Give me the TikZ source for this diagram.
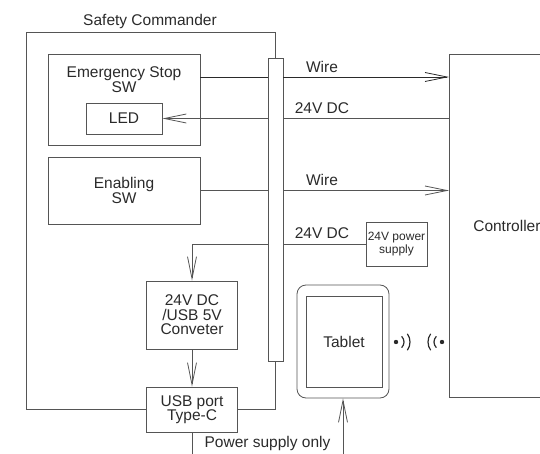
\documentclass[tikz,border=0pt]{standalone}
\usepackage{fontspec}
\setmainfont{Liberation Sans}
\usetikzlibrary{arrows.meta}
\definecolor{linec}{HTML}{555555}
\definecolor{wirec}{HTML}{2A2A2A}
\definecolor{txt}{HTML}{2A2A2A}
\begin{document}
\begin{tikzpicture}[x=1pt,y=-1pt,
  box/.style={draw=linec, line width=0.8pt, rectangle, inner sep=0pt, align=center,
    font=\fontsize{15.5}{14.5}\selectfont, text=txt},
  lbl/.style={inner sep=0pt, font=\fontsize{15.5}{14}\selectfont, text=txt, align=center},
  ln/.style={draw=linec, line width=0.8pt},
  wr/.style={draw=wirec, line width=0.8pt},
  arr/.style={-{Straight Barb[length=22pt,width=9pt,line width=0.8pt]}},
  wave/.style={draw=txt, line width=1.2pt},
]
\useasboundingbox (0,0) rectangle (540,454);
\clip (0,0) rectangle (540,454);

% boxes
\node[box, minimum width=152, minimum height=91] (es) at (124,99.5) {};
\node[lbl] (estxt) at (124,80) {Emergency Stop\\SW};
\node[box, minimum width=76, minimum height=31] (led) at (124,118.5) {LED};
\node[box, minimum width=152, minimum height=67] (en) at (124,190.5) {Enabling\\SW};
\node[box, minimum width=91, minimum height=68] (conv) at (192,315) {24V DC\\/USB 5V\\Conveter};
\node[box, minimum width=91, minimum height=45] (usb) at (192,409.5) {USB port\\Type-C};
\node[box, minimum width=15, minimum height=303] (bar) at (275.5,209.5) {};
\node[box, minimum width=61, minimum height=44, font=\fontsize{12}{12.5}\selectfont] (psu) at (396.5,244) {24V power\\supply};
\node[draw=linec, line width=0.8pt, rounded corners=9, minimum width=92, minimum height=113, inner sep=0pt] (tabo) at (343,341.5) {};
\node[box, minimum width=76, minimum height=91] (tab) at (344,341.5) {Tablet};
\node[box, minimum width=115, minimum height=343, anchor=west] (ctrl) at (449,225.5) {Controller};

% outer Safety Commander frame
\node[lbl] (sc) at (150,21) {Safety Commander};
\draw[ln] (usb.west) -| (26,32) -| (bar.north);
\draw[ln] (usb.east) -| (bar.south);

% connectors
\coordinate (w1) at (0,77);
\draw[wr] (es.east |- w1) -- (bar.west |- w1);
\draw[wr, arr] (bar.east |- w1) -- (ctrl.west |- w1);
\node[lbl] (lw1) at (322,67) {Wire};

\draw[ln] (ctrl.west |- led) -- (bar.east |- led);
\draw[ln, arr] (bar.west |- led) -- (led.east);
\node[lbl] (ld1) at (322,108) {24V DC};

\draw[ln] (en.east) -- (bar.west |- en.east);
\draw[ln, arr] (bar.east |- en.east) -- (ctrl.west |- en.east);
\node[lbl] (lw2) at (322,180) {Wire};

\draw[ln] (psu.west) -- (bar.east |- psu.west);
\draw[ln, arr] (bar.west |- psu.west) -| (conv.north);
\node[lbl] (ld2) at (322,233) {24V DC};

\draw[ln, arr] (conv.south) -- (usb.north);

\coordinate (bl) at (192,456);
\draw[ln] (usb.south) -- (bl);
\node[lbl] (lps) at (267.5,443) {Power supply only};

\coordinate (br) at (343,456);
\draw[ln, arr] (br) -- (tabo.south);

% wireless symbols
\fill[txt] (396,342) circle (2.2);
\draw[wave] ([shift={(-45:8)}]396,342) arc[start angle=-45, end angle=45, radius=8];
\draw[wave] ([shift={(-36:14)}]396,342) arc[start angle=-36, end angle=36, radius=14];
\fill[txt] (442,342) circle (2.2);
\draw[wave] ([shift={(135:8)}]442,342) arc[start angle=135, end angle=225, radius=8];
\draw[wave] ([shift={(144:14)}]442,342) arc[start angle=144, end angle=216, radius=14];
\end{tikzpicture}
\end{document}
